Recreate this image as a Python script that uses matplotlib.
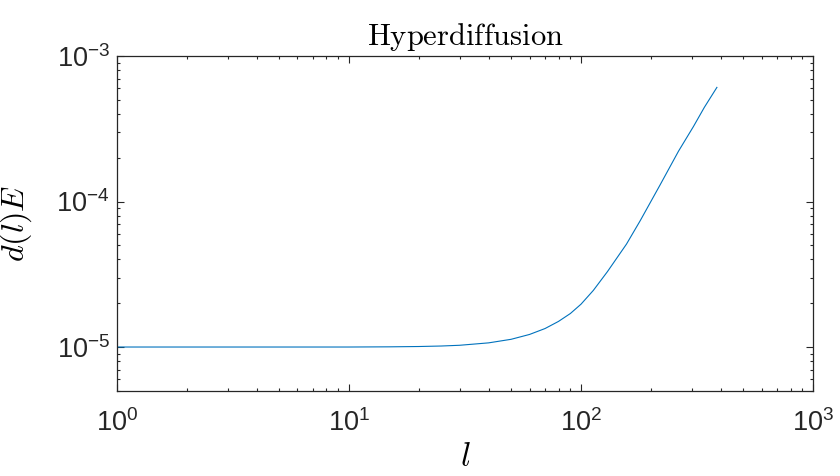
import numpy as np
import matplotlib.pyplot as plt

# values
ell = [1, 5, 10, 15, 20, 25, 30, 40, 50, 60, 70, 80, 90, 100, 113, 130,
       157, 180, 219, 263, 305, 340, 385]
d_energy = [1.0e-5, 1.0e-5, 1.0e-5, 1.003e-5, 1.008e-5, 1.016e-5, 1.028e-5,
            1.068e-5, 1.13e-5, 1.22e-5, 1.34e-5, 1.5e-5, 1.7e-5, 1.97e-5,
            2.45e-5, 3.3e-5, 5.1e-5, 7.4e-5, 1.3e-4, 2.22e-4, 3.28e-4,
            4.45e-4, 6.1e-4]
xticks = [1, 10, 100, 1000]
xticklabels = ['10^{0}', '10^{1}', '10^{2}', '10^{3}']
yticks = [1e-5, 1e-4, 1e-3]
yticklabels = ['10^{-5}', '10^{-4}', '10^{-3}']


def main():
    plt.rcParams['mathtext.fontset'] = 'cm'
    plt.rcParams['font.family'] = ['Liberation Sans', 'DejaVu Sans']

    fig = plt.figure(figsize=(8.4, 4.76), dpi=100)
    ax = fig.add_axes([0.139, 0.179, 0.829, 0.703])

    ax.loglog(ell, d_energy, color='#0072BD', lw=0.8)
    ax.set_xlim(1, 1000)
    ax.set_ylim(5e-6, 1e-3)

    ax.set_xticks(xticks)
    ax.set_xticklabels([f'$\\mathregular{{{t}}}$' for t in xticklabels])
    ax.set_yticks(yticks)
    ax.set_yticklabels([f'$\\mathregular{{{t}}}$' for t in yticklabels])

    ax.tick_params(which='both', direction='in', top=True, right=True,
                   color='#262626', labelcolor='#262626', labelsize=19.5,
                   width=0.8)
    ax.tick_params(which='major', length=5)
    ax.tick_params(axis='y', which='major', pad=5)
    ax.tick_params(axis='x', which='major', pad=13)
    ax.tick_params(which='minor', length=2.5)
    for s in ax.spines.values():
        s.set_color('#262626')
        s.set_linewidth(0.9)

    ax.set_title(r'$\mathrm{Hyperdiffusion}$', fontsize=22, pad=8)
    ax.set_xlabel(r'$l$', fontsize=24, labelpad=4)
    ax.set_ylabel(r'$d(l)E$', fontsize=23, labelpad=16)

    fig.savefig('out.png', dpi=100)
    plt.close(fig)


if __name__ == '__main__':
    main()
